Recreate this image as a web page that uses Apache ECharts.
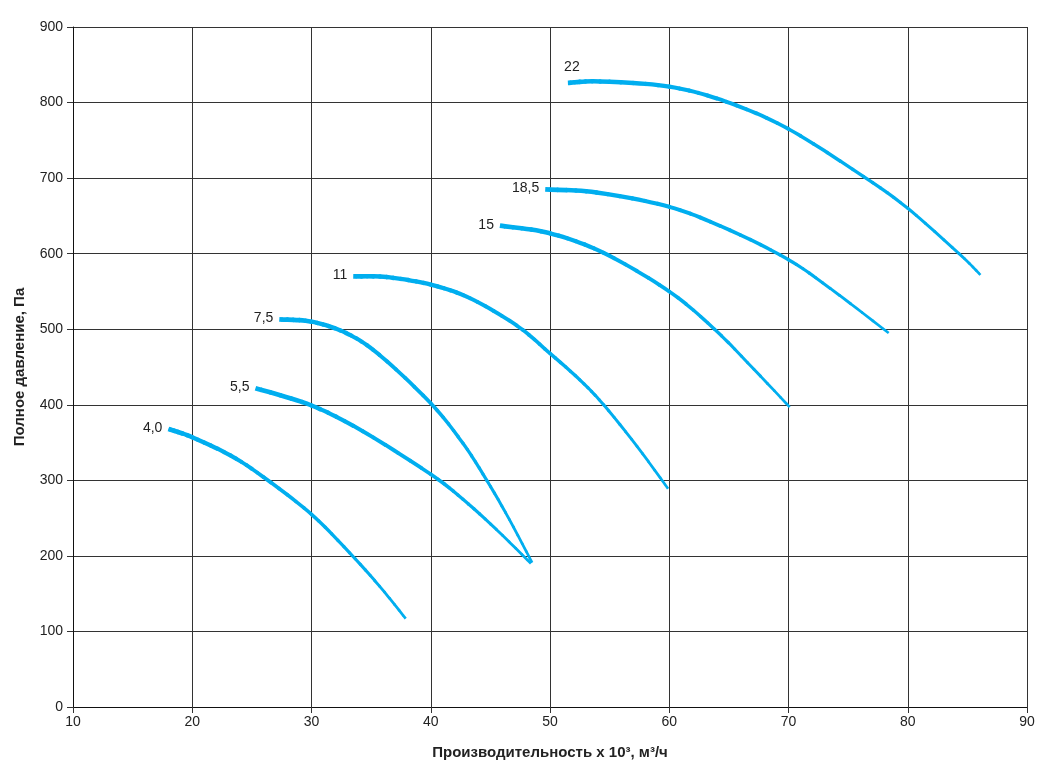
<!DOCTYPE html>
<html lang="ru">
<head>
    <meta charset="UTF-8">
    <title>Характеристики</title>
    <script src="https://cdn.jsdelivr.net/npm/echarts@6/dist/echarts.min.js"></script>
    <style>
        html, body { margin: 0; padding: 0; background: #fff; }
        #chart { width: 1051px; height: 777px; }
    </style>
</head>
<body>
    <div id="chart"></div>
    <script>
        // кривые по мощности двигателя, кВт: [расход x10^3, давление]
        var names = ['4,0', '5,5', '7,5', '11', '15', '18,5', '22'];
        var c40 = [[18, 368], [20, 357], [23.2, 333], [26, 304], [30, 255], [33.2, 204], [35.7, 160], [37.9, 117]];
        var c55 = [[25.3, 422], [30, 399], [34.3, 365], [40, 308], [42.7, 275], [45.5, 235], [48.4, 190]];
        var c75 = [[27.3, 513], [30, 510], [32.9, 495], [35.7, 466], [40, 402], [42.7, 349], [44.7, 300], [46.6, 248], [48.5, 191]];
        var c11 = [[33.5, 570], [36.3, 569], [40, 559], [43.3, 541], [47.2, 505], [50, 468], [52.5, 433], [54.5, 400], [57.3, 345], [59.9, 289]];
        var c15 = [[45.8, 637], [50, 627], [54.5, 601], [60, 550], [63.8, 500], [67.1, 447], [70.1, 397]];
        var c185 = [[49.6, 685], [53.9, 681], [60, 662], [65.1, 631], [70, 592], [73.5, 554], [78.4, 495]];
        var c22 = [[51.5, 826], [54.2, 828], [60, 821], [64.8, 801], [70, 765], [76.3, 702], [80, 660], [84.3, 600], [86.1, 572]];
        var curves = [c40, c55, c75, c11, c15, c185, c22];

        var xTicks = [10, 20, 30, 40, 50, 60, 70, 80, 90];
        var yTicks = [0, 100, 200, 300, 400, 500, 600, 700, 800, 900];

        var LINE = '#00AEEF';
        var W_START = 4.8, W_END = 2.6, SUB = 6;

        var myChart = echarts.init(document.getElementById('chart'));

        function bez(a, b, c, d, t) {
            var u = 1 - t;
            return u * u * u * a + 3 * u * u * t * b + 3 * u * t * t * c + t * t * t * d;
        }
        function bezD(a, b, c, d, t) {
            var u = 1 - t;
            return 3 * u * u * (b - a) + 6 * u * t * (c - b) + 3 * t * t * (d - c);
        }

        // плавная кривая через точки (Catmull-Rom -> Безье), линия сужается к концу
        function curveItem(pts, name) {
            return function (params, api) {
                if (params.dataIndex !== 0) return null;
                var p = pts.map(function (d) { return api.coord(d); });
                var n = p.length;
                var children = [];
                for (var i = 0; i < n - 1; i++) {
                    var p0 = p[i - 1] || p[i], p1 = p[i], p2 = p[i + 1], p3 = p[i + 2] || p[i + 1];
                    var X = [p1[0], p1[0] + (p2[0] - p0[0]) / 6, p2[0] - (p3[0] - p1[0]) / 6, p2[0]];
                    var Y = [p1[1], p1[1] + (p2[1] - p0[1]) / 6, p2[1] - (p3[1] - p1[1]) / 6, p2[1]];
                    for (var k = 0; k < SUB; k++) {
                        var t0 = k / SUB, t1 = (k + 1) / SUB, h = (t1 - t0) / 3;
                        var ax = bez(X[0], X[1], X[2], X[3], t0), ay = bez(Y[0], Y[1], Y[2], Y[3], t0);
                        var bx = bez(X[0], X[1], X[2], X[3], t1), by = bez(Y[0], Y[1], Y[2], Y[3], t1);
                        var s = (i + (k + 0.5) / SUB) / (n - 1);
                        var edge = (i === 0 && k === 0) || (i === n - 2 && k === SUB - 1);
                        children.push({
                            type: 'bezierCurve',
                            shape: {
                                x1: ax, y1: ay, x2: bx, y2: by,
                                cpx1: ax + h * bezD(X[0], X[1], X[2], X[3], t0),
                                cpy1: ay + h * bezD(Y[0], Y[1], Y[2], Y[3], t0),
                                cpx2: bx - h * bezD(X[0], X[1], X[2], X[3], t1),
                                cpy2: by - h * bezD(Y[0], Y[1], Y[2], Y[3], t1)
                            },
                            style: {
                                stroke: LINE,
                                lineWidth: W_START - (W_START - W_END) * s,
                                fill: null,
                                lineCap: edge ? 'butt' : 'round'
                            }
                        });
                    }
                }
                var top = name === '22';
                children.push({
                    type: 'text',
                    style: {
                        text: name,
                        x: top ? p[0][0] + 4 : p[0][0] - 6,
                        y: top ? p[0][1] - 9 : p[0][1] - 1,
                        align: top ? 'center' : 'right',
                        verticalAlign: top ? 'bottom' : 'middle',
                        fill: '#222',
                        fontSize: 14,
                        fontFamily: 'Liberation Sans'
                    }
                });
                return { type: 'group', children: children };
            };
        }

        var series = curves.map(function (pts, i) {
            return {
                name: names[i],
                type: 'custom',
                encode: { x: 0, y: 1 },
                renderItem: curveItem(pts, names[i]),
                data: pts
            };
        });

        var option = {
            animation: false,
            grid: { left: 73, right: 24, top: 27, bottom: 70 },
            xAxis: {
                type: 'value',
                min: xTicks[0],
                max: xTicks[xTicks.length - 1],
                interval: 10,
                name: 'Производительность х 10³, м³/ч',
                nameLocation: 'middle',
                nameGap: 38,
                nameTextStyle: { color: '#222', fontSize: 15, fontWeight: 'bold', fontFamily: 'Liberation Sans' },
                axisLine: { lineStyle: { color: '#111', width: 1 } },
                axisTick: { show: true, length: 6, lineStyle: { color: '#333' } },
                axisLabel: { color: '#222', fontSize: 14, margin: 8, fontFamily: 'Liberation Sans' },
                splitLine: { show: true, lineStyle: { color: '#333', width: 1 } }
            },
            yAxis: {
                type: 'value',
                min: yTicks[0],
                max: yTicks[yTicks.length - 1],
                interval: 100,
                name: 'Полное давление, Па',
                nameLocation: 'middle',
                nameGap: 46,
                nameTextStyle: { color: '#222', fontSize: 15, fontWeight: 'bold', fontFamily: 'Liberation Sans' },
                axisLine: { show: true, lineStyle: { color: '#111', width: 1 } },
                axisTick: { show: true, length: 6, lineStyle: { color: '#333' } },
                axisLabel: { color: '#222', fontSize: 14, margin: 10, fontFamily: 'Liberation Sans' },
                splitLine: { show: true, lineStyle: { color: '#333', width: 1 } }
            },
            series: series
        };
        myChart.setOption(option);
    </script>
</body>
</html>
